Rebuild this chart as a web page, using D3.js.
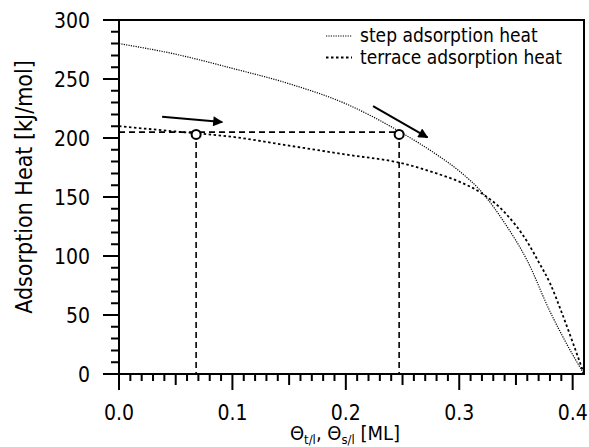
<!DOCTYPE html>
<html>
<head>
<meta charset="utf-8">
<script src="https://cdn.jsdelivr.net/npm/d3@7"></script>
<style>
  body { margin: 0; background: #fff; }
  svg text { font-family: 'DejaVu Sans Condensed', 'DejaVu Sans', sans-serif; fill: #000; }
</style>
</head>
<body>
<div id="chart"></div>
<script>
// ---------- DATA ----------
const stepTheta = [0, 0.05, 0.1, 0.15, 0.2, 0.25, 0.28, 0.3, 0.32, 0.34, 0.36, 0.38, 0.395, 0.41];
const stepHeat = [280, 271, 259, 246, 229, 204, 186, 172, 154, 128, 96, 53, 25, 0];

const terraceTheta = [0, 0.05, 0.1, 0.15, 0.2, 0.25, 0.28, 0.3, 0.32, 0.34, 0.36, 0.37, 0.38, 0.39, 0.4, 0.41];
const terraceHeat = [210, 205.5, 201, 193.5, 186, 178.5, 170, 163, 153, 137, 112, 95, 77, 53, 27, 0];

// marked points and the dashed guide lines
const markTheta = [0.068, 0.247];
const markHeat = [203, 203];
const guideHeat = 205;

// arrows: [theta, heat] start and end
const arrowFrom = [[0.038, 218], [0.224, 227]];
const arrowTo = [[0.091, 213.5], [0.272, 200.5]];

const xMajor = [0, 0.1, 0.2, 0.3, 0.4];
const yMajor = [0, 50, 100, 150, 200, 250, 300];
const legendNames = ['step adsorption heat', 'terrace adsorption heat'];

// ---------- LAYOUT ----------
const width = 589, height = 447;
const margin = { top: 20, right: 5, bottom: 73, left: 119 };
const contentWidth = width - margin.left - margin.right;
const contentHeight = height - margin.top - margin.bottom;

const svg = d3
  .select('#chart')
  .append('svg')
  .attr('width', width)
  .attr('height', height);

svg
  .append('defs')
  .append('marker')
  .attr('id', 'head')
  .attr('viewBox', '0 0 10 10')
  .attr('refX', 9)
  .attr('refY', 5)
  .attr('markerUnits', 'userSpaceOnUse')
  .attr('markerWidth', 14)
  .attr('markerHeight', 10)
  .attr('orient', 'auto')
  .append('path')
  .attr('d', 'M0,0 L10,5 L0,10 Z')
  .attr('fill', '#000');

const g = svg
  .append('g')
  .attr('transform', `translate(${margin.left}, ${margin.top})`);

const x = d3.scaleLinear().domain([0, 0.41]).range([0, contentWidth]);
const y = d3.scaleLinear().domain([0, 300]).range([contentHeight, 0]);

// ----------- TICKS ------------
const yTicks = d3.range(0, 301, 10);
const xTicks = d3.range(0, 41).map((i) => i / 100);

function xTickLen(v) {
  const k = Math.round(v * 100);
  if (k % 10 === 0) return 16;
  if (k % 5 === 0) return 11;
  return 7;
}

// one path for all tick marks
let tickPath = '';
yTicks.forEach((d) => {
  const len = d % 50 === 0 ? 16 : 8;
  tickPath += `M${-len},${y(d)}H0`;
});
xTicks.forEach((d) => {
  tickPath += `M${x(d)},${contentHeight}V${contentHeight + xTickLen(d)}`;
});

g.append('path')
  .attr('class', 'ticks')
  .attr('d', tickPath)
  .attr('fill', 'none')
  .attr('stroke', '#000')
  .attr('stroke-width', 2);

// tick labels
g.selectAll('.ylab')
  .data(yMajor)
  .enter()
  .append('text')
  .attr('x', -29)
  .attr('y', (d) => y(d))
  .attr('dy', '0.36em')
  .attr('text-anchor', 'end')
  .style('font-size', '21px')
  .text((d) => d);

g.selectAll('.xlab')
  .data(xMajor)
  .enter()
  .append('text')
  .attr('x', (d) => x(d))
  .attr('y', contentHeight + 46)
  .attr('text-anchor', 'middle')
  .style('font-size', '21px')
  .text(d3.format('.1f'));

// frame
g.append('rect')
  .attr('width', contentWidth)
  .attr('height', contentHeight)
  .attr('fill', 'none')
  .attr('stroke', '#000')
  .attr('stroke-width', 2);

// axis titles
svg
  .append('text')
  .attr('transform', `translate(24, 187) rotate(-90)`)
  .attr('text-anchor', 'middle')
  .attr('dominant-baseline', 'central')
  .style('font-size', '23px')
  .text('Adsorption Heat [kJ/mol]');

const xTitle = svg
  .append('text')
  .attr('x', 345)
  .attr('y', 440)
  .attr('text-anchor', 'middle')
  .style('font-size', '20px');
xTitle.append('tspan').text('Θ');
xTitle.append('tspan').attr('dy', 4).style('font-size', '13px').text('t/l');
xTitle.append('tspan').attr('dy', -4).text(', Θ');
xTitle.append('tspan').attr('dy', 4).style('font-size', '13px').text('s/l');
xTitle.append('tspan').attr('dy', -4).text(' [ML]');

// ----------- GUIDES ------------
const guides = g
  .append('g')
  .attr('stroke', '#000')
  .attr('stroke-width', 1.6)
  .attr('stroke-dasharray', '6,4')
  .attr('fill', 'none');

guides
  .append('line')
  .attr('x1', x(0))
  .attr('x2', x(markTheta[1]))
  .attr('y1', y(guideHeat))
  .attr('y2', y(guideHeat));

guides
  .selectAll('.vguide')
  .data(markTheta)
  .enter()
  .append('line')
  .attr('x1', (d) => x(d))
  .attr('x2', (d) => x(d))
  .attr('y1', y(guideHeat))
  .attr('y2', y(0));

// ----------- CURVES ------------
const line = d3
  .line()
  .x((d) => x(d[0]))
  .y((d) => y(d[1]))
  .curve(d3.curveMonotoneX);

g.append('path')
  .attr('d', line(d3.zip(stepTheta, stepHeat)))
  .attr('fill', 'none')
  .attr('stroke', '#000')
  .attr('stroke-width', 1.2)
  .attr('stroke-dasharray', '1.2,1.2');

g.append('path')
  .attr('d', line(d3.zip(terraceTheta, terraceHeat)))
  .attr('fill', 'none')
  .attr('stroke', '#000')
  .attr('stroke-width', 1.8)
  .attr('stroke-dasharray', '2.5,2.5');

// marked points
g.selectAll('.mark')
  .data(d3.zip(markTheta, markHeat))
  .enter()
  .append('circle')
  .attr('cx', (d) => x(d[0]))
  .attr('cy', (d) => y(d[1]))
  .attr('r', 4.5)
  .attr('fill', '#fff')
  .attr('stroke', '#000')
  .attr('stroke-width', 2);

// arrows
g.selectAll('.arrow')
  .data(d3.zip(arrowFrom, arrowTo))
  .enter()
  .append('line')
  .attr('x1', (d) => x(d[0][0]))
  .attr('y1', (d) => y(d[0][1]))
  .attr('x2', (d) => x(d[1][0]))
  .attr('y2', (d) => y(d[1][1]))
  .attr('stroke', '#000')
  .attr('stroke-width', 2)
  .attr('marker-end', 'url(#head)');

// ----------- LEGEND ------------
const legendDash = [
  { w: 1.2, dash: '1.2,1.2' },
  { w: 1.8, dash: '2.5,2.5' },
];
const legend = svg
  .selectAll('.legend')
  .data(legendNames)
  .enter()
  .append('g')
  .attr('transform', (d, i) => `translate(326, ${36 + i * 21.5})`);

legend
  .append('line')
  .attr('x1', 0)
  .attr('x2', 26)
  .attr('stroke', '#000')
  .attr('stroke-width', (d, i) => legendDash[i].w)
  .attr('stroke-dasharray', (d, i) => legendDash[i].dash);

legend
  .append('text')
  .attr('x', 34)
  .attr('dy', '0.33em')
  .style('font-size', '19px')
  .text((d) => d);
</script>
</body>
</html>
